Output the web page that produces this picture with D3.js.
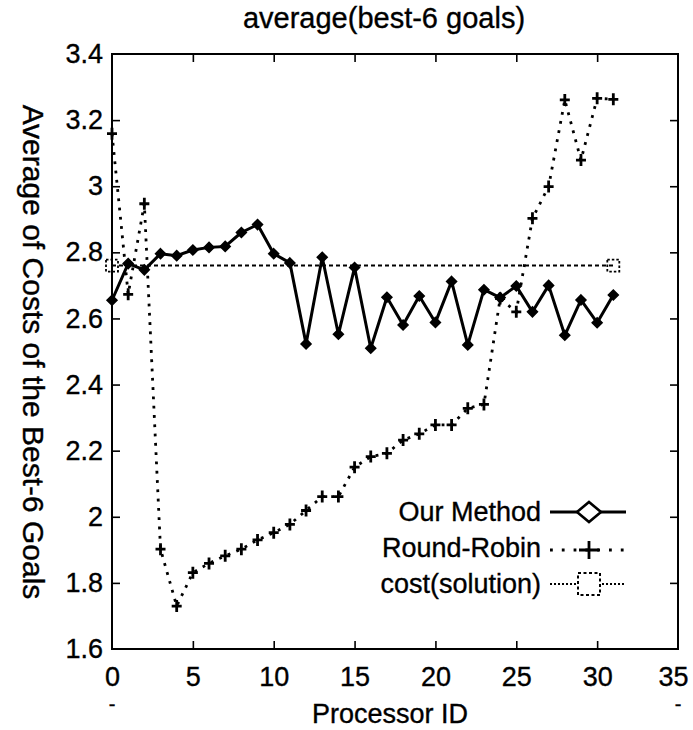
<!DOCTYPE html>
<html>
<head>
<meta charset="utf-8">
<script src="https://cdn.jsdelivr.net/npm/d3@7"></script>
<style>
  html, body { margin: 0; padding: 0; background: #fff; }
  svg { display: block; }
  text { font-family: "Liberation Sans", Arial, Helvetica, sans-serif; fill: #000;
         stroke: #000; stroke-width: 0.35px; }
</style>
</head>
<body>
<svg id="chart" width="693" height="730"></svg>
<script>
// Processor IDs 0..31
const processors = d3.range(0, 32);

// Average cost of the best-6 goals per processor
const ourMethod = [2.655, 2.766, 2.747, 2.796, 2.790, 2.807, 2.815, 2.818, 2.860, 2.884,
                   2.796, 2.768, 2.523, 2.785, 2.552, 2.754, 2.510, 2.664, 2.580, 2.668,
                   2.588, 2.712, 2.520, 2.687, 2.663, 2.698, 2.620, 2.700, 2.549, 2.656,
                   2.587, 2.671];

const roundRobin = [3.159, 2.673, 2.947, 1.902, 1.730, 1.831, 1.859, 1.882, 1.902, 1.930,
                    1.952, 1.977, 2.019, 2.061, 2.061, 2.150, 2.182, 2.192, 2.232, 2.251,
                    2.278, 2.278, 2.328, 2.340, 2.660, 2.620, 2.903, 2.999, 3.261, 3.079,
                    3.266, 3.263];

// Reference cost of the solution (flat line between first and last processor)
const costX = [0, 31];
const costY = [2.76, 2.76];

const xTicks = [0, 5, 10, 15, 20, 25, 30, 35];
const yTicks = [1.6, 1.8, 2.0, 2.2, 2.4, 2.6, 2.8, 3.0, 3.2, 3.4];

const seriesNames = ["Our Method", "Round-Robin", "cost(solution)"];
const titleText = "average(best-6 goals)";
const xLabel = "Processor ID";
const yLabel = "Average of Costs of the Best-6 Goals";

(function draw() {
  const svg = d3.select("#chart");
  const FONT = 27;

  const pl = 112, pr = 678, pt = 54, pb = 649;
  const x = d3.scaleLinear().domain([0, 35]).range([pl, pr]);
  const y = d3.scaleLinear().domain([1.6, 3.4]).range([pb, pt]);

  const fmt = d => String(+d.toFixed(1));

  // Frame
  svg.append("rect")
    .attr("x", pl).attr("y", pt)
    .attr("width", pr - pl).attr("height", pb - pt)
    .attr("fill", "none").attr("stroke", "#000").attr("stroke-width", 2);

  // Axes with inward ticks, mirrored on the opposite side
  const tickLen = 8;
  const gx = svg.append("g").attr("transform", `translate(0,${pb})`)
    .call(d3.axisBottom(x).tickValues(xTicks).tickSize(-tickLen).tickPadding(18).tickFormat(d3.format("d")));
  const gxTop = svg.append("g").attr("transform", `translate(0,${pt})`)
    .call(d3.axisTop(x).tickValues(xTicks).tickSize(-tickLen).tickFormat(""));
  const gy = svg.append("g").attr("transform", `translate(${pl},0)`)
    .call(d3.axisLeft(y).tickValues(yTicks).tickSize(-tickLen).tickPadding(9).tickFormat(fmt));
  const gyRight = svg.append("g").attr("transform", `translate(${pr},0)`)
    .call(d3.axisRight(y).tickValues(yTicks).tickSize(-tickLen).tickFormat(""));

  [gx, gxTop, gy, gyRight].forEach(g => {
    g.select(".domain").remove();
    g.selectAll(".tick line").attr("stroke", "#000").attr("stroke-width", 1.6);
    g.selectAll(".tick text").attr("font-size", FONT).attr("fill", "#000")
      .attr("font-family", "Liberation Sans, Arial, sans-serif");
  });
  gx.selectAll(".tick text").attr("dy", "0.71em");
  // keep the last x label inside the page
  gx.selectAll(".tick text").filter(d => d === 35).attr("dx", -5);
  // end ticks coincide with the frame edges
  gx.selectAll(".tick line").filter(d => d === 0 || d === 35).remove();
  gxTop.selectAll(".tick line").filter(d => d === 0 || d === 35).remove();
  gy.selectAll(".tick line").filter(d => d === 1.6 || d === 3.4).remove();
  gyRight.selectAll(".tick line").filter(d => d === 1.6 || d === 3.4).remove();

  // Small dash marks beneath the end labels of the x axis
  [0, 35].forEach(v => {
    svg.append("text").attr("x", x(v)).attr("y", 711)
      .attr("text-anchor", "middle").attr("font-size", 20).text("-");
  });

  // Title and axis titles
  svg.append("text").attr("x", 384).attr("y", 28)
    .attr("text-anchor", "middle").attr("font-size", 29).text(titleText);
  svg.append("text").attr("x", 390).attr("y", 723)
    .attr("text-anchor", "middle").attr("font-size", FONT).text(xLabel);
  svg.append("text")
    .attr("transform", `translate(23,352) rotate(90)`)
    .attr("text-anchor", "middle").attr("font-size", 30).text(yLabel);

  // Lines
  const line = d3.line().x(d => x(d[0])).y(d => y(d[1]));
  const ourPts = processors.map((p, i) => [p, ourMethod[i]]);
  const rrPts = processors.map((p, i) => [p, roundRobin[i]]);
  const costPts = costX.map((p, i) => [p, costY[i]]);

  svg.append("path").datum(costPts).attr("d", line)
    .attr("fill", "none").attr("stroke", "#000").attr("stroke-width", 2)
    .attr("stroke-dasharray", "4,3");

  svg.append("path").datum(rrPts).attr("d", line)
    .attr("fill", "none").attr("stroke", "#000").attr("stroke-width", 2.8)
    .attr("stroke-dasharray", "2.8,6.5");

  svg.append("path").datum(ourPts).attr("d", line)
    .attr("fill", "none").attr("stroke", "#000").attr("stroke-width", 3)
    .attr("stroke-linejoin", "round");

  // Markers
  const diamond = (cx, cy, w, h) => `M${cx},${cy - h}L${cx + w},${cy}L${cx},${cy + h}L${cx - w},${cy}Z`;
  const plus = (cx, cy, w, h) => `M${cx - w},${cy}H${cx + w}M${cx},${cy - h}V${cy + h}`;

  svg.append("g").selectAll("path").data(ourPts).join("path")
    .attr("d", d => diamond(x(d[0]), y(d[1]), 5, 5))
    .attr("fill", "#000").attr("stroke", "#000").attr("stroke-width", 1.5);

  svg.append("g").selectAll("path").data(rrPts).join("path")
    .attr("d", d => plus(x(d[0]), y(d[1]), 5, 6))
    .attr("fill", "none").attr("stroke", "#000").attr("stroke-width", 2.8);

  svg.append("g").selectAll("rect").data(costPts).join("rect")
    .attr("x", d => x(d[0]) - 6).attr("y", d => y(d[1]) - 6)
    .attr("width", 12).attr("height", 12)
    .attr("fill", "none").attr("stroke", "#000").attr("stroke-width", 1.8)
    .attr("stroke-dasharray", "2.5,2");

  // Legend
  const legend = svg.append("g");
  const rows = [512, 548, 584];
  const lx0 = 550, lx1 = 626, lm = 589;
  seriesNames.forEach((name, i) => {
    legend.append("text").attr("x", 541).attr("y", rows[i])
      .attr("dy", "0.35em").attr("text-anchor", "end").attr("font-size", FONT).text(name);
  });
  legend.append("line").attr("x1", lx0).attr("x2", lx1).attr("y1", rows[0]).attr("y2", rows[0])
    .attr("stroke", "#000").attr("stroke-width", 3);
  legend.append("path").attr("d", diamond(lm, rows[0], 12, 10))
    .attr("fill", "#fff").attr("stroke", "#000").attr("stroke-width", 2.6);
  legend.append("line").attr("x1", lx0).attr("x2", lx1).attr("y1", rows[1] + 2).attr("y2", rows[1] + 2)
    .attr("stroke", "#000").attr("stroke-width", 2.8).attr("stroke-dasharray", "2.8,9");
  legend.append("path").attr("d", plus(lm, rows[1] + 2, 10, 9))
    .attr("fill", "none").attr("stroke", "#000").attr("stroke-width", 2.8);
  legend.append("line").attr("x1", lx0).attr("x2", lx1).attr("y1", rows[2]).attr("y2", rows[2])
    .attr("stroke", "#000").attr("stroke-width", 2).attr("stroke-dasharray", "2,2");
  legend.append("rect").attr("x", lm - 11).attr("y", rows[2] - 11).attr("width", 22).attr("height", 22)
    .attr("fill", "#fff").attr("stroke", "#000").attr("stroke-width", 2).attr("stroke-dasharray", "3,2.5");
})();
</script>
</body>
</html>
